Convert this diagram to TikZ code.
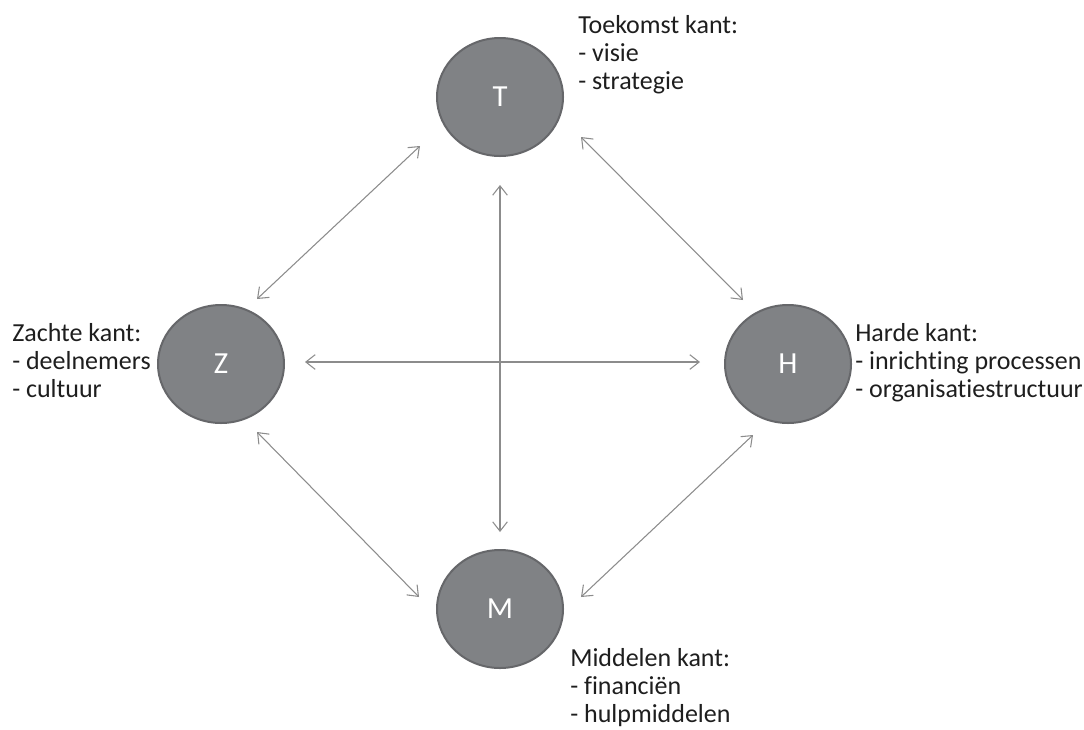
\documentclass[tikz,border=0pt]{standalone}
\usepackage{fontspec}
\setmainfont{Carlito}[Ligatures=NoCommon]
\usetikzlibrary{arrows.meta,shapes.geometric}
\definecolor{discfill}{HTML}{808285}
\definecolor{discedge}{HTML}{66676A}
\definecolor{linkgray}{HTML}{8C8C8C}
\definecolor{labeltext}{HTML}{1E1E1E}
\begin{document}
\begin{tikzpicture}[x=0.75pt,y=-0.75pt,
  disc/.style={ellipse, draw=discedge, line width=1.5pt, fill=discfill,
    minimum width=94.5pt, minimum height=88.5pt, inner sep=0pt,
    text=white, font=\fontsize{23}{28}\selectfont},
  % base west = baseline of the last of the three lines
  side/.style={anchor=base west, align=left, inner sep=0pt,
    text=labeltext, font=\fontsize{19.5}{21}\selectfont},
  link/.style={draw=linkgray, line width=0.8pt,
    {Straight Barb[length=7pt,width=11pt]}-{Straight Barb[length=7pt,width=11pt]}}]
  \useasboundingbox (0,0) rectangle (1084,729);

  % the four sides
  \node[disc] (T) at (500,97)  {T};
  \node[disc] (Z) at (221,364) {Z};
  \node[disc] (H) at (788,364) {H};
  \node[disc] (M) at (500,609) {M};

  % descriptions
  \node[side] (tl) at (578,89)  {Toekomst kant:\\- visie\\- strategie};
  \node[side] (zl) at (12,397)  {Zachte kant:\\- deelnemers\\- cultuur};
  \node[side] (hl) at (855,397) {Harde kant:\\- inrichting processen\\- organisatiestructuur};
  \node[side] (ml) at (570,722) {Middelen kant:\\- financiën\\- hulpmiddelen};

  % arrow end points
  \coordinate (tz1) at (420,146); \coordinate (tz2) at (257,299);
  \coordinate (th1) at (581,137); \coordinate (th2) at (743,300);
  \coordinate (zm1) at (257,432); \coordinate (zm2) at (419,597);
  \coordinate (hm1) at (753,435); \coordinate (hm2) at (581,597);
  \coordinate (tm1) at (500,185); \coordinate (tm2) at (500,532);
  \coordinate (zh1) at (305,362); \coordinate (zh2) at (700,362);

  % two-way links
  \draw[link] (tz1) -- (tz2);
  \draw[link] (th1) -- (th2);
  \draw[link] (zm1) -- (zm2);
  \draw[link] (hm1) -- (hm2);
  \draw[link] (tm1) -- (tm2);
  \draw[link] (zh1) -- (zh2);
\end{tikzpicture}
\end{document}
